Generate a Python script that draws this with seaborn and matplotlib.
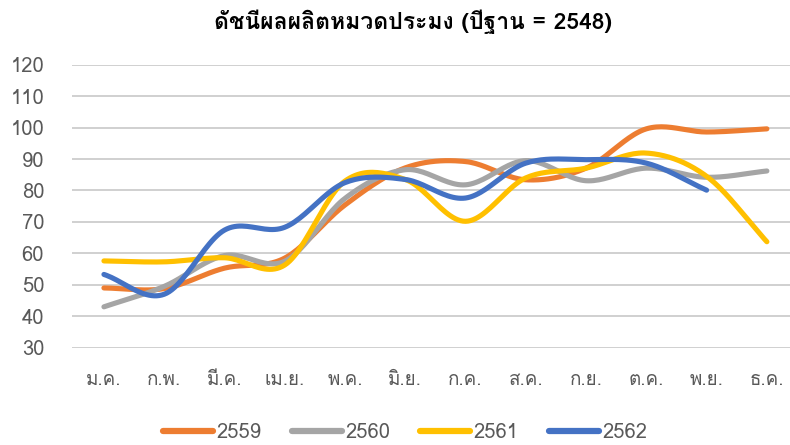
import numpy as np
import pandas as pd
import matplotlib
matplotlib.use("Agg")
import matplotlib.pyplot as plt
import matplotlib.font_manager as fm
from matplotlib.ft2font import FT2Font
import seaborn as sns

# =============================================================================
# DATA
# =============================================================================
months = ["ม.ค.", "ก.พ.", "มี.ค.", "เม.ย.", "พ.ค.", "มิ.ย.",
          "ก.ค.", "ส.ค.", "ก.ย.", "ต.ค.", "พ.ย.", "ธ.ค."]
years = ["2559", "2560", "2561", "2562"]

y2559 = [49.0, 48.8, 55.3, 58.5, 75.4, 87.2, 89.2, 83.4, 87.1, 99.6, 98.6, 99.6]
y2560 = [43.0, 49.5, 59.3, 57.5, 77.5, 86.6, 81.8, 89.5, 83.1, 87.1, 84.2, 86.2]
y2561 = [57.6, 57.3, 58.6, 56.3, 83.0, 83.5, 70.2, 84.0, 87.1, 91.9, 84.5, 63.7]
y2562 = [53.3, 47.0, 67.4, 68.3, 82.5, 83.5, 77.6, 88.7, 89.8, 88.7, 80.1]

yticks = [30, 40, 50, 60, 70, 80, 90, 100, 110, 120]
title = "ดัชนีผลผลิตหมวดประมง (ปีฐาน = 2548)"

PALETTE = {"2559": "#ED7D31", "2560": "#A5A5A5",
           "2561": "#FFC000", "2562": "#4472C4"}


# =============================================================================
# FONT — need something with Thai glyphs
# =============================================================================
def thai_font():
    for f in fm.fontManager.ttflist:
        try:
            if 0x0E14 in FT2Font(f.fname).get_charmap():
                return f.name
        except Exception:
            continue
    return None


sns.set_theme(style="white")
th = thai_font()
plt.rcParams["font.family"] = [th, "DejaVu Sans"] if th else ["DejaVu Sans"]


# smooth line like Excel (Catmull-Rom through the points)
def smooth(vals, n=24):
    y = np.asarray(vals, dtype=float)
    k = len(y)
    xs, ys = [], []
    for i in range(k - 1):
        m0 = (y[i + 1] - y[max(i - 1, 0)]) / (2 if i > 0 else 1)
        m1 = (y[min(i + 2, k - 1)] - y[i]) / (2 if i + 2 <= k - 1 else 1)
        t = np.linspace(0, 1, n, endpoint=(i == k - 2))
        h00 = 2 * t**3 - 3 * t**2 + 1
        h10 = t**3 - 2 * t**2 + t
        h01 = -2 * t**3 + 3 * t**2
        h11 = t**3 - t**2
        xs.append(i + t)
        ys.append(h00 * y[i] + h10 * m0 + h01 * y[i + 1] + h11 * m1)
    return np.concatenate(xs), np.concatenate(ys)


frames = []
for yr, vals in zip(years, [y2559, y2560, y2561, y2562]):
    sx, sy = smooth(vals)
    frames.append(pd.DataFrame({"x": sx, "value": sy, "year": yr}))
df = pd.concat(frames, ignore_index=True)

# =============================================================================
# PLOT
# =============================================================================
fig = plt.figure(figsize=(7.9, 4.45), dpi=100)
ax = fig.add_axes([72 / 790, 1 - 347.7 / 445, 725 / 790, 283 / 445])

sns.lineplot(data=df, x="x", y="value", hue="year", palette=PALETTE,
             sort=False, estimator=None, linewidth=3.7, ax=ax)
for ln in ax.lines:
    ln.set_solid_capstyle("round")

ax.set_xlim(-0.53, 11.5)
ax.set_ylim(30, 120)
ax.set_yticks(yticks)
ax.set_xticks(range(len(months)))
ax.set_xticklabels(months)
ax.yaxis.grid(True, color="#C4C4C4", linewidth=1.1)
ax.set_axisbelow(True)
for s in ax.spines.values():
    s.set_visible(False)
ax.tick_params(axis="both", length=0, colors="#595959")
ax.tick_params(axis="x", pad=17, labelsize=13.5)
ax.tick_params(axis="y", pad=20, labelsize=14.5)
ax.set_xlabel("")
ax.set_ylabel("")

fig.text(413 / 790, 1 - 22 / 445, title, ha="center", va="center",
         fontsize=16.5, fontweight="bold", color="black")

sns.move_legend(ax, "center", bbox_to_anchor=(405 / 790, 1 - 433 / 445),
                bbox_transform=fig.transFigure, ncol=4, frameon=False,
                title=None, fontsize=14.5, handlelength=2.5, handletextpad=0.15,
                columnspacing=1.5, labelcolor="#595959")
for h in ax.get_legend().get_lines():
    h.set_linewidth(4.5)
    h.set_solid_capstyle("round")

fig.savefig("out.png", dpi=100)
